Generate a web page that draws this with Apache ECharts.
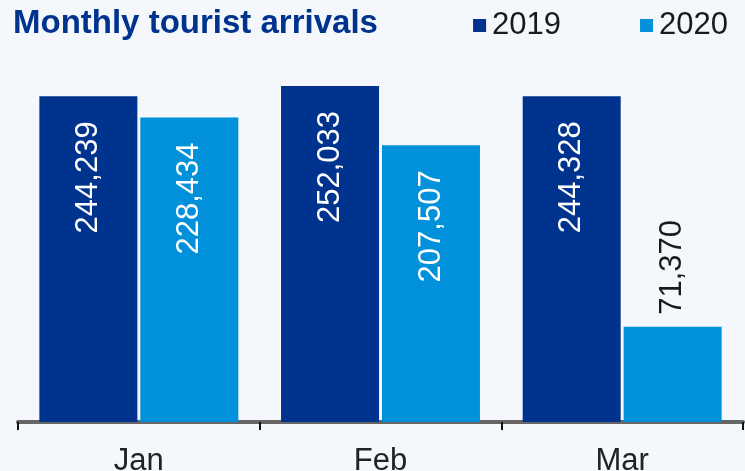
<!DOCTYPE html>
<html>
<head>
<meta charset="utf-8">
<script src="https://cdn.jsdelivr.net/npm/echarts@6/dist/echarts.min.js"></script>
<style>
    html, body { margin: 0; padding: 0; background: #f4f7fc; }
    #arrivals-bar { width: 745px; height: 471px; }
</style>
</head>
<body>
<div id="arrivals-bar"></div>
<script>
    // chart data
    var months = ['Jan', 'Feb', 'Mar'];
    var arrivals2019 = [244239, 252033, 244328];
    var arrivals2020 = [228434, 207507, 71370];
    var seriesNames = ['2019', '2020'];

    var fontFamily = '"Liberation Sans", Arial, sans-serif';

    // bars too short for an inside label get their label on top
    function barData(values) {
        return values.map(function (v) {
            if (v < 100000) {
                return {
                    value: v,
                    label: { position: 'top', align: 'left', distance: 12, color: '#1a1a1a' }
                };
            }
            return v;
        });
    }

    var arrivalsChart = echarts.init(document.getElementById('arrivals-bar'));

    var barLabel = {
        show: true,
        position: 'insideTop',
        rotate: 90,
        align: 'right',
        verticalAlign: 'middle',
        distance: 25,
        color: '#ffffff',
        fontSize: 31,
        fontFamily: fontFamily,
        formatter: function (p) {
            return p.value.toLocaleString('en-US');
        }
    };

    var option = {
        backgroundColor: '#f4f7fc',
        animation: false,

        // Title
        title: {
            text: 'Monthly tourist arrivals',
            left: 13,
            top: 7,
            padding: 0,
            textStyle: {
                color: '#00338d',
                fontSize: 33,
                fontWeight: 'bold',
                fontFamily: fontFamily
            }
        },

        // Legend
        legend: {
            data: seriesNames,
            right: 17,
            top: 10,
            padding: 0,
            icon: 'rect',
            itemWidth: 13,
            itemHeight: 13,
            itemGap: 79,
            textStyle: {
                color: '#1a1a1a',
                fontSize: 31,
                fontFamily: fontFamily,
                padding: [0, 0, 0, 1]
            }
        },

        color: ['#00338d', '#0091da'],

        // Setup grid
        grid: {
            left: 18,
            right: 2,
            top: 22,
            bottom: 49,
            containLabel: false,
            outerBoundsMode: 'none'
        },

        // Horizontal axis
        xAxis: [{
            type: 'category',
            data: months,
            axisLine: { lineStyle: { color: '#666666', width: 4 } },
            axisTick: { show: true, length: 8, lineStyle: { color: '#111111', width: 2 } },
            axisLabel: {
                color: '#222222',
                fontSize: 31,
                fontFamily: fontFamily,
                margin: 24
            }
        }],

        // Vertical axis
        yAxis: [{
            type: 'value',
            min: 0,
            max: 300000,
            show: false,
            splitLine: { show: false }
        }],

        // Add series
        series: [
            {
                name: seriesNames[0],
                type: 'bar',
                barWidth: 98,
                barGap: '3%',
                label: barLabel,
                data: barData(arrivals2019)
            },
            {
                name: seriesNames[1],
                type: 'bar',
                barWidth: 98,
                barGap: '3%',
                label: barLabel,
                data: barData(arrivals2020)
            }
        ]
    };
    arrivalsChart.setOption(option);
</script>
</body>
</html>
